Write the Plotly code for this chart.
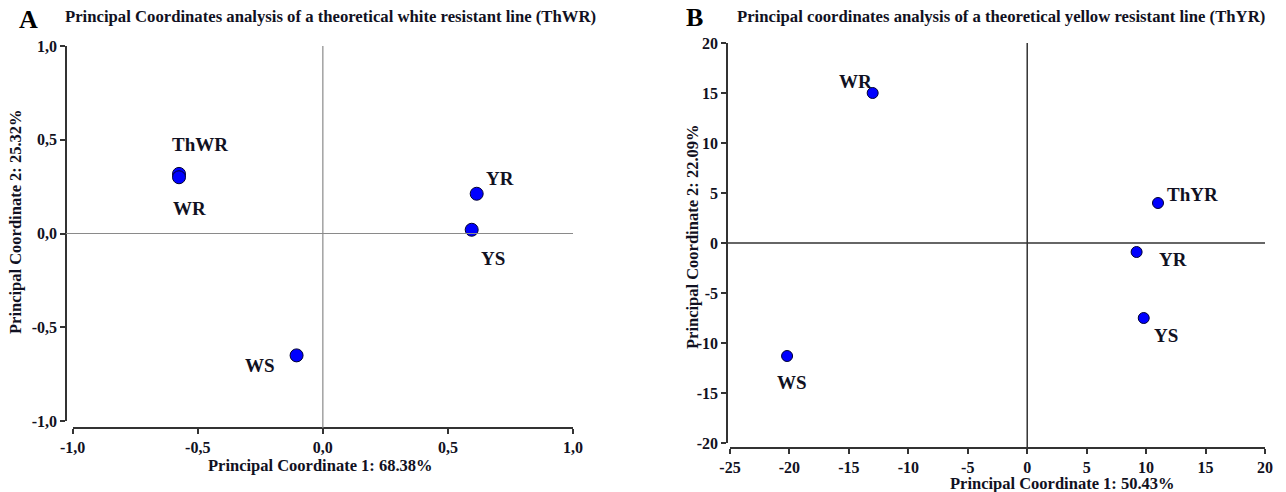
import plotly.graph_objects as go

W, H = 1286, 492

# ---------------- data ----------------
a_names = ["ThWR", "WR", "WS", "YR", "YS"]
a_pc1 = [-0.575, -0.575, -0.105, 0.615, 0.595]
a_pc2 = [0.318, 0.300, -0.65, 0.212, 0.02]

b_names = ["WR", "WS", "ThYR", "YR", "YS"]
b_pc1 = [-13.0, -20.2, 11.0, 9.2, 9.8]
b_pc2 = [15.0, -11.3, 4.0, -0.9, -7.5]

a_tickvals = [-1.0, -0.5, 0.0, 0.5, 1.0]
a_ticktext = ["-1,0", "-0,5", "0,0", "0,5", "1,0"]
b_xtickvals = [-25, -20, -15, -10, -5, 0, 5, 10, 15, 20]
b_xticktext = ["-25", "-20", "-15", "-10", "-5", "0", "5", "10", "15", "20"]
b_ytickvals = [-20, -15, -10, -5, 0, 5, 10, 15, 20]
b_yticktext = ["-20", "-15", "-10", "-5", "0", "5", "10", "15", "20"]

a_title = "Principal Coordinates analysis of a theoretical white resistant line (ThWR)"
b_title = "Principal coordinates analysis of a theoretical yellow resistant line (ThYR)"
a_xlabel = "Principal Coordinate 1: 68.38%"
a_ylabel = "Principal Coordinate 2: 25.32%"
b_xlabel = "Principal Coordinate 1: 50.43%"
b_ylabel = "Principal Coordinate 2: 22.09%"

# label offsets in pixels (dx right, dy up)
a_shift = {"ThWR": (21, 29), "WR": (10, -31), "WS": (-37, -10), "YR": (23, 15), "YS": (21, -29)}
b_shift = {"WR": (-17, 12), "WS": (5, -26), "ThYR": (34, 9), "YR": (36, -7), "YS": (22, -17)}

# ---------------- helpers ----------------
def px(x):
    return x / W

def py(y):
    return 1 - y / H

def bold(lst):
    return ["<b>%s</b>" % t for t in lst]

def b(t):
    return "<b>%s</b>" % t

FONT = "Liberation Serif"
TXT = "#111122"
AXC = "#333333"

fig = go.Figure()

fig.add_trace(go.Scatter(
    x=a_pc1, y=a_pc2, mode="markers", xaxis="x", yaxis="y",
    marker=dict(size=13, color="#0000ff", line=dict(color="#000033", width=1)),
    hoverinfo="text", text=a_names, showlegend=False))

fig.add_trace(go.Scatter(
    x=b_pc1, y=b_pc2, mode="markers", xaxis="x2", yaxis="y2",
    marker=dict(size=11, color="#0000ff", line=dict(color="#000033", width=1)),
    hoverinfo="text", text=b_names, showlegend=False))

tickfont = dict(family=FONT, size=16, color=TXT)
common = dict(showline=True, linecolor=AXC, linewidth=1.5, ticks="outside",
              ticklen=5, tickwidth=1.5, tickcolor=AXC, showgrid=False,
              zeroline=False, tickfont=tickfont, anchor="free", fixedrange=True,
              automargin=False)

fig.update_layout(
    width=W, height=H,
    font=dict(family=FONT, color=TXT),
    margin=dict(l=0, r=0, t=0, b=0, pad=0, autoexpand=False),
    paper_bgcolor="white", plot_bgcolor="white",
    xaxis=dict(domain=[px(72.7), px(573)], range=[-1, 1], position=py(428),
               tickvals=a_tickvals, ticktext=bold(a_ticktext), **common),
    yaxis=dict(domain=[py(421), py(46)], range=[-1, 1], position=px(66),
               tickvals=a_tickvals, ticktext=bold(a_ticktext), **common),
    xaxis2=dict(domain=[px(730), px(1265)], range=[-25, 20], position=py(448),
                tickvals=b_xtickvals, ticktext=bold(b_xticktext), **common),
    yaxis2=dict(domain=[py(443), py(43)], range=[-20, 20], position=px(727),
                tickvals=b_ytickvals, ticktext=bold(b_yticktext), **common),
)

shapes = [
    dict(type="line", xref="x", yref="paper", x0=0, x1=0, y0=py(428), y1=py(46),
         line=dict(color="#8a8a8a", width=1.2)),
    dict(type="line", xref="paper", yref="y", x0=px(66), x1=px(573), y0=0, y1=0,
         line=dict(color="#8a8a8a", width=1.2)),
    dict(type="line", xref="x2", yref="paper", x0=0, x1=0, y0=py(448), y1=py(43),
         line=dict(color="#333333", width=1.5)),
    dict(type="line", xref="paper", yref="y2", x0=px(727), x1=px(1265), y0=0, y1=0,
         line=dict(color="#333333", width=1.5)),
]
fig.update_layout(shapes=shapes)

ann = []
lblfont = dict(family=FONT, size=19, color=TXT)
for n, x, y in zip(a_names, a_pc1, a_pc2):
    dx, dy = a_shift[n]
    ann.append(dict(x=x, y=y, xref="x", yref="y", text=b(n), showarrow=False,
                    xshift=dx, yshift=dy, font=lblfont))
for n, x, y in zip(b_names, b_pc1, b_pc2):
    dx, dy = b_shift[n]
    ann.append(dict(x=x, y=y, xref="x2", yref="y2", text=b(n), showarrow=False,
                    xshift=dx, yshift=dy, font=lblfont))

titlefont = dict(family=FONT, size=16.7, color=TXT)
axfont = dict(family=FONT, size=16.5, color=TXT)
letterfont = dict(family=FONT, size=26, color="#000000")

ann += [
    dict(x=px(17), y=py(36), xref="paper", yref="paper", text=b("A"), showarrow=False,
         xanchor="left", yanchor="bottom", font=letterfont),
    dict(x=px(684), y=py(34), xref="paper", yref="paper", text=b("B"), showarrow=False,
         xanchor="left", yanchor="bottom", font=letterfont),
    dict(x=px(63), y=py(17), xref="paper", yref="paper", text=b(a_title), showarrow=False,
         xanchor="left", yanchor="middle", font=titlefont),
    dict(x=px(735), y=py(17), xref="paper", yref="paper", text=b(b_title), showarrow=False,
         xanchor="left", yanchor="middle", font=titlefont),
    dict(x=px(320), y=py(465), xref="paper", yref="paper", text=b(a_xlabel), showarrow=False,
         xanchor="center", yanchor="middle", font=axfont),
    dict(x=px(16), y=py(222), xref="paper", yref="paper", text=b(a_ylabel), showarrow=False,
         xanchor="center", yanchor="middle", textangle=-90, font=axfont),
    dict(x=px(1062), y=py(483), xref="paper", yref="paper", text=b(b_xlabel), showarrow=False,
         xanchor="center", yanchor="middle", font=axfont),
    dict(x=px(692), y=py(236), xref="paper", yref="paper", text=b(b_ylabel), showarrow=False,
         xanchor="center", yanchor="middle", textangle=-90, font=axfont),
]
fig.update_layout(annotations=ann)

fig.write_html(
    "out.html",
    config={"displayModeBar": False},
    post_script="document.body.style.margin='0';document.body.style.overflow='hidden';",
)
